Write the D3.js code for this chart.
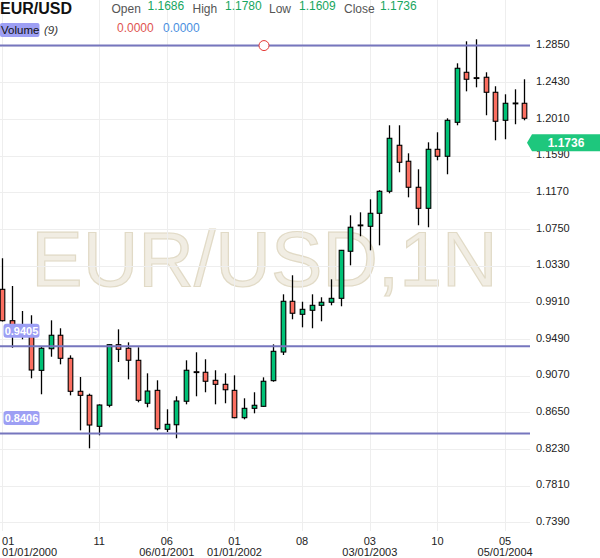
<!DOCTYPE html>
<html><head><meta charset="utf-8">
<script src="https://cdn.jsdelivr.net/npm/d3@7"></script>
<style>
html,body{margin:0;padding:0;background:#fff;}
svg{display:block;font-family:"Liberation Sans",Arial,sans-serif;}
</style></head><body>
<svg id="chart" width="600" height="558"></svg>
<script>
const months = ["2000-01","2000-02","2000-03","2000-04","2000-05","2000-06","2000-07","2000-08","2000-09","2000-10","2000-11","2000-12",
"2001-01","2001-02","2001-03","2001-04","2001-05","2001-06","2001-07","2001-08","2001-09","2001-10","2001-11","2001-12",
"2002-01","2002-02","2002-03","2002-04","2002-05","2002-06","2002-07","2002-08","2002-09","2002-10","2002-11","2002-12",
"2003-01","2003-02","2003-03","2003-04","2003-05","2003-06","2003-07","2003-08","2003-09","2003-10","2003-11","2003-12",
"2004-01","2004-02","2004-03","2004-04","2004-05","2004-06","2004-07"];
const openVals = [1.0058,0.9699,0.9650,0.9575,0.9130,0.9378,0.9532,0.9268,0.8890,0.8844,0.8489,0.8730,
0.9424,0.9383,0.9245,0.8753,0.8901,0.8455,0.8507,0.8776,0.9114,0.9108,0.9016,0.8970,
0.8901,0.8588,0.8695,0.8718,0.9012,0.9340,0.9921,0.9772,0.9818,0.9875,0.9910,0.9955,
1.0494,1.0795,1.0780,1.0929,1.1181,1.1708,1.1525,1.1227,1.0986,1.1662,1.1582,1.1971,
1.2544,1.2482,1.2487,1.2315,1.1994,1.2192,1.2189];
const highVals = [1.0414,1.0096,0.9810,0.9761,0.9401,0.9703,0.9612,0.9302,0.9054,0.8863,0.8741,0.9428,
0.9600,0.9451,0.9394,0.9096,0.9016,0.8684,0.8833,0.9245,0.9337,0.9257,0.9131,0.9096,
0.9073,0.8810,0.8879,0.9050,0.9428,1.0001,1.0219,0.9916,1.0001,0.9967,1.0173,1.0509,
1.0906,1.0940,1.1089,1.1193,1.1937,1.1937,1.1616,1.1433,1.1742,1.1857,1.2017,1.2647,
1.2899,1.2922,1.2544,1.2384,1.2292,1.2349,1.2464];
const lowVals = [0.9690,0.9389,0.9486,0.9039,0.8856,0.9286,0.9199,0.8844,0.8443,0.8237,0.8386,0.8707,
0.9226,0.9027,0.8764,0.8707,0.8443,0.8424,0.8352,0.8741,0.8833,0.8879,0.8741,0.8753,
0.8581,0.8569,0.8638,0.8712,0.9000,0.9306,0.9715,0.9623,0.9612,0.9692,0.9875,0.9864,
1.0333,1.0666,1.0505,1.0562,1.1158,1.1399,1.1112,1.0792,1.0769,1.1536,1.1376,1.1937,
1.2326,1.2372,1.2052,1.1765,1.1777,1.1949,1.1994];
const closeVals = [0.9699,0.9650,0.9575,0.9134,0.9383,0.9532,0.9268,0.8890,0.8844,0.8504,0.8733,0.9424,
0.9371,0.9246,0.8787,0.8893,0.8462,0.8512,0.8779,0.9131,0.9110,0.9005,0.8970,0.8908,
0.8588,0.8695,0.8730,0.9005,0.9348,0.9921,0.9784,0.9829,0.9875,0.9910,0.9955,1.0505,
1.0769,1.0790,1.0929,1.1181,1.1788,1.1513,1.1227,1.0986,1.1662,1.1582,1.1994,1.2590,
1.2464,1.2476,1.2315,1.1983,1.2189,1.2186,1.2017];

const yTickValues = [1.2850,1.2430,1.2010,1.1590,1.1170,1.0750,1.0330,0.9910,0.9490,0.9070,0.8650,0.8230,0.7810,0.7390];
const xTickMonths = ["2000-01","2000-11","2001-06","2002-01","2002-08","2003-03","2003-10","2004-05"];
const xTickLabels = ["01","11","06","01","08","03","10","05"];
const xTickDates = ["01/01/2000","","06/01/2001","01/01/2002","","03/01/2003","","05/01/2004"];
const hLineValues = [1.2850, 0.9405, 0.8406];
const hLineLabels = ["", "0.9405", "0.8406"];
const lastPrice = 1.1736;
const headerLabels = ["Open","High","Low","Close"];
const headerValues = ["1.1686","1.1780","1.1609","1.1736"];
const volumeValues = ["0.0000","0.0000"];
const symbol = "EUR/USD";
const watermark = "EUR/USD,1N";

const UP = "#00c176", DOWN = "#fb6e60";
const plotR = 530, plotB = 531;
const svg = d3.select("#chart");

const x = d3.scaleBand().domain(months).range([-2.4, 529.3]).padding(0);
const cx = m => x(m) + x.bandwidth() / 2;
const y = d3.scaleLinear().domain([0.729, 1.3372]).range([plotB, 0]);

// watermark
svg.append("text").attr("x", 264.5).attr("y", 286).attr("text-anchor", "middle")
  .attr("font-size", 77).attr("fill", "#f1ede3").attr("stroke", "#e1dac6").attr("stroke-width", 1.2)
  .text(watermark);

// grid
const grid = svg.append("g");
grid.selectAll("line.h").data(yTickValues).join("line").attr("class","h")
  .attr("x1", 0).attr("x2", plotR)
  .attr("y1", d => Math.round(y(d)) + 0.5).attr("y2", d => Math.round(y(d)) + 0.5)
  .attr("stroke", "#eeeeee").attr("stroke-width", 1);
grid.selectAll("line.v").data(xTickMonths).join("line").attr("class","v")
  .attr("y1", 0).attr("y2", plotB)
  .attr("x1", d => Math.round(cx(d)) + 0.5).attr("x2", d => Math.round(cx(d)) + 0.5)
  .attr("stroke", "#eeeeee").attr("stroke-width", 1);

// candles
const idx = d3.range(months.length);
const candles = svg.append("g").selectAll("g").data(idx).join("g");
candles.append("line")
  .attr("x1", i => Math.round(cx(months[i])) + 0.5).attr("x2", i => Math.round(cx(months[i])) + 0.5)
  .attr("y1", i => y(highVals[i])).attr("y2", i => y(lowVals[i]))
  .attr("stroke", "#000").attr("stroke-width", 1.3);
candles.append("rect")
  .attr("x", i => Math.round(cx(months[i])) + 0.5 - 2.3)
  .attr("width", 4.6)
  .attr("y", i => y(Math.max(openVals[i], closeVals[i])))
  .attr("height", i => Math.max(0.8, Math.abs(y(openVals[i]) - y(closeVals[i]))))
  .attr("fill", i => closeVals[i] >= openVals[i] ? UP : DOWN)
  .attr("stroke", "#000").attr("stroke-width", 1.1);

// horizontal lines
svg.append("g").selectAll("line").data(hLineValues).join("line")
  .attr("x1", 0).attr("x2", plotR)
  .attr("y1", d => y(d)).attr("y2", d => y(d))
  .attr("stroke", "#7676be").attr("stroke-width", 2);
const hl = svg.append("g").selectAll("g").data(hLineValues.map((v,i)=>({v, t:hLineLabels[i]})).filter(d=>d.t)).join("g");
hl.append("rect").attr("x", 3.5).attr("width", 36).attr("y", d => y(d.v) - 22.5).attr("height", 14)
  .attr("rx", 3).attr("fill", "#9d9ff4");
hl.append("text").attr("x", 21.5).attr("y", d => y(d.v) - 11.5).attr("text-anchor", "middle")
  .attr("font-size", 11).attr("font-weight", "bold").attr("fill", "#fff").text(d => d.t);
// marker circle on top line
svg.append("circle").attr("cx", 264).attr("cy", y(hLineValues[0])).attr("r", 5)
  .attr("fill", "#fff").attr("stroke", "#e53935").attr("stroke-width", 1);

// y axis (right)
const yAxis = d3.axisRight(y).tickValues(yTickValues).tickFormat(d3.format(".4f")).tickSize(0).tickPadding(6);
const ya = svg.append("g").attr("transform", `translate(${plotR},0)`).call(yAxis);
ya.select(".domain").remove();
ya.selectAll("text").attr("font-size", 11).attr("font-family", "Liberation Sans, Arial, sans-serif")
  .attr("fill", "#222").attr("dy", "0.2em");

// last price label (drawn over the axis, as in the reference)
const ly = y(lastPrice);
svg.append("path").attr("d", `M527,${ly} L532,${ly-8.5} L600,${ly-8.5} L600,${ly+8.5} L532,${ly+8.5} Z`)
  .attr("fill", "#1ec77d");
svg.append("text").attr("x", 566).attr("y", ly + 4.5).attr("text-anchor", "middle")
  .attr("font-size", 12).attr("font-weight", "bold").attr("fill", "#fff")
  .text(d3.format(".4f")(lastPrice));

// x axis (bottom)
const xAxis = d3.axisBottom(x).tickValues(xTickMonths).tickFormat((d,i) => xTickLabels[i]).tickSize(0);
const xa = svg.append("g").attr("transform", `translate(0,${plotB})`).call(xAxis);
xa.select(".domain").remove();
xa.selectAll(".tick text").attr("font-size", 11).attr("font-family", "Liberation Sans, Arial, sans-serif")
  .attr("fill", "#222").attr("y", 14).attr("dy", 0)
  .each(function(d, i) {
    const t = d3.select(this);
    if (i === 0) { t.attr("text-anchor", "start").attr("x", 2 - cx(d)); }
    if (xTickDates[i]) {
      t.append("tspan").attr("x", t.attr("x") || 0).attr("y", 25).text(xTickDates[i]);
    }
  });

// header
svg.append("text").attr("x", 0).attr("y", 14).attr("font-size", 16).attr("font-weight", "bold")
  .attr("fill", "#111").text(symbol);
const hdrX = [111.5, 192.5, 269, 344];
const valX = [147.5, 225, 299, 380];
headerLabels.forEach((lab, i) => {
  svg.append("text").attr("x", hdrX[i]).attr("y", 12.5).attr("font-size", 12).attr("fill", "#555").text(lab);
  svg.append("text").attr("x", valX[i]).attr("y", 9.5).attr("font-size", 12).attr("fill", "#17a65e").text(headerValues[i]);
});
svg.append("rect").attr("x", 0).attr("y", 23).attr("width", 39.5).attr("height", 14).attr("rx", 2).attr("fill", "#9d9ff4");
svg.append("text").attr("x", 1).attr("y", 34).attr("font-size", 11.5).attr("fill", "#111").text("Volume");
svg.append("text").attr("x", 44).attr("y", 34).attr("font-size", 11.5).attr("font-style", "italic").attr("fill", "#333").text("(9)");
svg.append("text").attr("x", 117).attr("y", 32).attr("font-size", 12).attr("fill", "#e0544f").text(volumeValues[0]);
svg.append("text").attr("x", 163).attr("y", 32).attr("font-size", 12).attr("fill", "#4a8fe0").text(volumeValues[1]);
</script>
</body></html>
